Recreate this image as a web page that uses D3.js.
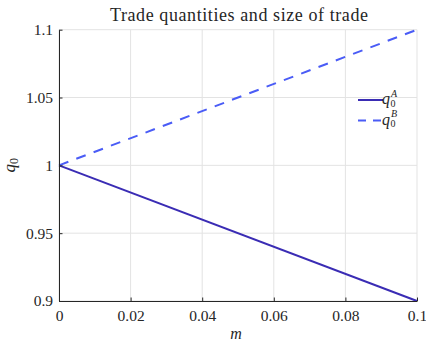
<!DOCTYPE html>
<html><head><meta charset="utf-8">
<script src="https://cdn.jsdelivr.net/npm/d3@7"></script>
<style>body{margin:0;background:#fff}svg{display:block}svg text{font-family:"Liberation Serif","DejaVu Serif",serif !important;fill:#262626}</style>
</head><body><svg id="c" width="426" height="342"></svg>
<script>
const mValues=[0,0.1];
const qA=[1,0.9];
const qB=[1,1.1];
const xTicks=[0,0.02,0.04,0.06,0.08,0.1];
const yTicks=[0.9,0.95,1,1.05,1.1];
const xTickLabels=["0","0.02","0.04","0.06","0.08","0.1"];
const yTickLabels=["0.9","0.95","1","1.05","1.1"];
const seriesNames=["A","B"];

const FONT="Liberation Serif";
const svg=d3.select("#c");
const L=59,R=417,T=29.7,B=301;
const x=d3.scaleLinear().domain([0,0.1]).range([L,R]);
const y=d3.scaleLinear().domain([0.9,1.1]).range([B,T]);

// grid
const g=svg.append("g");
g.selectAll(".gx").data(xTicks).enter().append("line")
 .attr("x1",d=>x(d)).attr("x2",d=>x(d)).attr("y1",T).attr("y2",B)
 .attr("stroke","#e3e3e3").attr("stroke-width",1);
g.selectAll(".gy").data(yTicks).enter().append("line")
 .attr("x1",L).attr("x2",R).attr("y1",d=>y(d)).attr("y2",d=>y(d))
 .attr("stroke","#e3e3e3").attr("stroke-width",1);

// lines
const line=d3.line().x(d=>x(d[0])).y(d=>y(d[1]));
svg.append("path").datum(mValues.map((m,i)=>[m,qA[i]])).attr("d",line)
 .attr("fill","none").attr("stroke","#3a2cb4").attr("stroke-width",2);
svg.append("path").datum(mValues.map((m,i)=>[m,qB[i]])).attr("d",line)
 .attr("fill","none").attr("stroke","#4a5cf6").attr("stroke-width",2).attr("stroke-dasharray","10,8.5");

// axes
const xa=svg.append("g").attr("transform",`translate(0,${B})`)
 .call(d3.axisBottom(x).tickValues(xTicks).tickFormat((d,i)=>xTickLabels[i]).tickSizeInner(-3.5).tickSizeOuter(0).tickPadding(6));
const ya=svg.append("g").attr("transform",`translate(${L},0)`)
 .call(d3.axisLeft(y).tickValues(yTicks).tickFormat((d,i)=>yTickLabels[i]).tickSizeInner(-3.5).tickSizeOuter(0).tickPadding(6));
[xa,ya].forEach(a=>{a.attr("font-family",FONT);
 a.select(".domain").attr("stroke","#262626").attr("stroke-width",1);
 a.selectAll(".tick line").attr("stroke","#262626");
 a.selectAll(".tick text").attr("font-size",15.5).style("font-family",FONT).attr("fill","#262626");});
xa.selectAll(".tick text").attr("dy","0.9em");

// title
svg.append("text").attr("x",239).attr("y",20.5).attr("text-anchor","middle").attr("font-size",18)
 .attr("textLength",258).attr("lengthAdjust","spacing").text("Trade quantities and size of trade");
// x label
svg.append("text").attr("x",236).attr("y",339).attr("text-anchor","middle").attr("font-size",16).attr("font-style","italic").text("m");
// y label
const yl=svg.append("text").attr("transform",`translate(15,${(T+B)/2}) rotate(-90)`).attr("text-anchor","middle").attr("font-size",17).attr("font-style","italic");
yl.append("tspan").text("q");
yl.append("tspan").attr("font-size",12).attr("dy",3).attr("font-style","normal").text("0");

// legend
const leg=svg.append("g");
const styles=[{c:"#3a2cb4",d:null},{c:"#4a5cf6",d:"8,7"}];
seriesNames.forEach((n,i)=>{
 const yy=100+i*20.5;
 leg.append("line").attr("x1",358).attr("x2",383).attr("y1",yy).attr("y2",yy)
  .attr("stroke",styles[i].c).attr("stroke-width",2).attr("stroke-dasharray",styles[i].d);
 leg.append("text").attr("x",382).attr("y",yy+4).attr("font-size",16).attr("font-style","italic").text("q");
 leg.append("text").attr("x",390.5).attr("y",yy+6.5).attr("font-size",10).text("0");
 leg.append("text").attr("x",391).attr("y",yy-3.5).attr("font-size",10).attr("font-style","italic").text(n);
});
</script></body></html>
